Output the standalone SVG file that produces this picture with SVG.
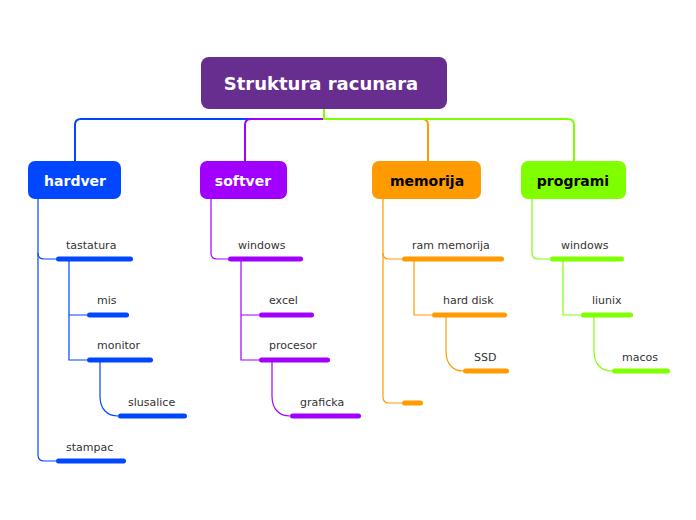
<svg xmlns="http://www.w3.org/2000/svg" width="696" height="520" viewBox="0 0 696 520">
<style>
.main{font-family:"DejaVu Sans",Verdana,sans-serif;font-weight:bold;font-size:14px;text-anchor:middle}
.lbl{font-family:"DejaVu Sans",Verdana,sans-serif;font-size:11px;fill:#333}
.c{fill:none;stroke-width:1.2}
.top{fill:none;stroke-width:2}
.b{stroke:#0047ff}.p{stroke:#a100ff}.o{stroke:#ff9a00}.g{stroke:#80ff00}
.bf{fill:#0047ff}.pf{fill:#a100ff}.of{fill:#ff9a00}.gf{fill:#80ff00}
</style>
<rect width="696" height="520" fill="#fff"/>
<g id="connectors">
<path class="top b" d="M324,109 V119 H81 Q75,119 75,125 V161"/>
<path class="top p" d="M324,109 V119 H251 Q245,119 245,125 V161"/>
<path class="top o" d="M324,109 V119 H422 Q428,119 428,125 V161"/>
<path class="top g" d="M324,109 V119 H568 Q574,119 574,125 V161"/>
<path class="c b" d="M38,199 V455 Q38,461 44,461 H56"/>
<path class="c b" d="M38,253 Q38,259 44,259 H56"/>
<path class="c b" d="M69,259 V360 H87 M69,315 H87"/>
<path class="c b" d="M100,360 V396 C100,410 108,416 118,416"/>
<path class="c p" d="M211,199 V253 Q211,259 217,259 H228"/>
<path class="c p" d="M241,259 V360 H259 M241,315 H259"/>
<path class="c p" d="M272,360 V396 C272,410 280,416 290,416"/>
<path class="c o" d="M383,199 V397 Q383,403 389,403 H402"/>
<path class="c o" d="M383,253 Q383,259 389,259 H402"/>
<path class="c o" d="M414,259 V315 H432"/>
<path class="c o" d="M446,315 V351 C446,365 454,371 463,371"/>
<path class="c g" d="M532,199 V253 Q532,259 538,259 H550"/>
<path class="c g" d="M563,259 V315 H581"/>
<path class="c g" d="M594,315 V351 C594,365 602,371 612,371"/>
</g>
<g id="root">
<rect x="201" y="57" width="246" height="52" rx="8" fill="#682e8f"/>
<text x="321" y="90" font-family="DejaVu Sans,Verdana,sans-serif" font-weight="bold" font-size="18" fill="#fff" text-anchor="middle">Struktura racunara</text>
</g>
<g id="hardver"><rect x="28" y="161" width="93" height="38" rx="7" class="bf"/><text class="main" x="75" y="186" fill="#fff">hardver</text></g>
<g id="softver"><rect x="200" y="161" width="87" height="38" rx="7" class="pf"/><text class="main" x="243" y="186" fill="#fff">softver</text></g>
<g id="memorija"><rect x="372" y="161" width="109" height="38" rx="7" class="of"/><text class="main" x="427" y="186" fill="#000">memorija</text></g>
<g id="programi"><rect x="521" y="161" width="105" height="38" rx="7" class="gf"/><text class="main" x="573" y="186" fill="#000">programi</text></g>
<g id="tastatura"><rect x="56" y="256.5" width="77" height="5" rx="2.5" class="bf"/><text class="lbl" x="66" y="249">tastatura</text></g>
<g id="mis"><rect x="87" y="312.5" width="42" height="5" rx="2.5" class="bf"/><text class="lbl" x="97" y="304">mis</text></g>
<g id="monitor"><rect x="87" y="357.5" width="66" height="5" rx="2.5" class="bf"/><text class="lbl" x="97" y="349">monitor</text></g>
<g id="slusalice"><rect x="118" y="413.5" width="69" height="5" rx="2.5" class="bf"/><text class="lbl" x="128" y="406">slusalice</text></g>
<g id="stampac"><rect x="56" y="458.5" width="70" height="5" rx="2.5" class="bf"/><text class="lbl" x="66" y="451">stampac</text></g>
<g id="windows1"><rect x="228" y="256.5" width="75" height="5" rx="2.5" class="pf"/><text class="lbl" x="238" y="249">windows</text></g>
<g id="excel"><rect x="259" y="312.5" width="55" height="5" rx="2.5" class="pf"/><text class="lbl" x="269" y="304">excel</text></g>
<g id="procesor"><rect x="259" y="357.5" width="71" height="5" rx="2.5" class="pf"/><text class="lbl" x="269" y="349">procesor</text></g>
<g id="graficka"><rect x="290" y="413.5" width="71" height="5" rx="2.5" class="pf"/><text class="lbl" x="300" y="406">graficka</text></g>
<g id="ram"><rect x="402" y="256.5" width="102" height="5" rx="2.5" class="of"/><text class="lbl" x="412" y="249">ram memorija</text></g>
<g id="harddisk"><rect x="432" y="312.5" width="75" height="5" rx="2.5" class="of"/><text class="lbl" x="443" y="304">hard disk</text></g>
<g id="ssd"><rect x="463" y="368.5" width="46" height="5" rx="2.5" class="of"/><text class="lbl" x="474" y="361">SSD</text></g>
<g id="empty"><rect x="402" y="400.5" width="21" height="5" rx="2.5" class="of"/></g>
<g id="windows2"><rect x="550" y="256.5" width="74" height="5" rx="2.5" class="gf"/><text class="lbl" x="561" y="249">windows</text></g>
<g id="liunix"><rect x="581" y="312.5" width="52" height="5" rx="2.5" class="gf"/><text class="lbl" x="592" y="304">liunix</text></g>
<g id="macos"><rect x="612" y="368.5" width="58" height="5" rx="2.5" class="gf"/><text class="lbl" x="622" y="361">macos</text></g>
</svg>
